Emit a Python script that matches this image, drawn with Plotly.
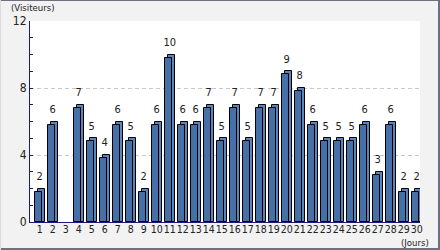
import plotly.graph_objects as go

days = list(range(1, 31))
visitors = [2, 6, 0, 7, 5, 4, 6, 5, 2, 6, 10, 6, 6, 7, 5, 7, 5, 7, 7, 9, 8, 6, 5, 5, 5, 6, 3, 6, 2, 2]
y_ticks = [0, 4, 8, 12]
y_label = "(Visiteurs)"
x_label = "(Jours)"

FONT = "DejaVu Sans Condensed"
FRONT = "#4570a8"
BACK = "#5a86bd"
AXIS = "#1c1c78"
TXT = "#222222"

# geometry of the pseudo-3D bars (in axis units)
depth_y = 0.18   # ~3px
front_w = 0.54
front_off = -0.385
back_off = front_off + 0.23

outline = [0 if v == 0 else 1 for v in visitors]

fig = go.Figure()

# back (depth) face
fig.add_trace(go.Bar(
    x=days, y=visitors, width=front_w, offset=back_off,
    marker=dict(color=BACK, line=dict(color="black", width=outline)),
    hoverinfo="skip", showlegend=False,
))
# front face
fig.add_trace(go.Bar(
    x=days, y=[max(v - depth_y, 0) for v in visitors], width=front_w, offset=front_off,
    marker=dict(color=FRONT, line=dict(color="black", width=outline)),
    showlegend=False,
))
# value labels
fig.add_trace(go.Scatter(
    x=days, y=visitors, mode="markers+text",
    marker=dict(size=8, color="rgba(0,0,0,0)"),
    text=[str(v) if v else "" for v in visitors],
    textposition="top center",
    textfont=dict(family=FONT, size=11, color=TXT),
    hoverinfo="skip", showlegend=False,
))

fig.update_layout(
    width=440, height=250,
    margin=dict(l=30, r=20, t=21, b=28),
    paper_bgcolor="#f2f2f2", plot_bgcolor="white",
    barmode="overlay", bargap=0,
    font=dict(family=FONT, size=11, color=TXT),
    xaxis=dict(
        range=[0.25, 30.25], tickmode="array", tickvals=days,
        ticktext=[str(d) for d in days], tickangle=0,
        showgrid=False, zeroline=False, showline=True, linecolor=AXIS, linewidth=1,
        ticks="", ticklabelstandoff=-3,
        tickfont=dict(family=FONT, size=10.5, color=TXT),
        fixedrange=True,
    ),
    yaxis=dict(
        range=[0, 12], tickmode="array", tickvals=y_ticks,
        showgrid=True, gridcolor="#c8c8c8", griddash="4px,3px", gridwidth=1,
        zeroline=False, showline=True, linecolor=AXIS, linewidth=1,
        ticks="inside", ticklen=3, tickcolor=AXIS,
        minor=dict(dtick=1, tick0=0, ticks="inside", ticklen=3, tickcolor=AXIS, showgrid=False),
        tickfont=dict(family=FONT, size=12, color=TXT),
        fixedrange=True,
    ),
    annotations=[
        dict(text=y_label, xref="paper", yref="paper", x=(9 - 30) / 390, y=(222 - 7.5) / 201,
             xanchor="left", yanchor="middle", showarrow=False,
             font=dict(family=FONT, size=9.5, color=TXT)),
        dict(text=x_label, xref="paper", yref="paper", x=(431 - 30) / 390, y=(222 - 242.5) / 201,
             xanchor="right", yanchor="middle", showarrow=False,
             font=dict(family=FONT, size=9.5, color=TXT)),
    ],
)

# outer frame: top thin dark, right and bottom thicker dark, left light
frame = "#6f6f80"
fig.add_shape(type="rect", xref="paper", yref="paper",
              x0=-30 / 390, x1=410 / 390, y0=(222 - 1) / 201, y1=222 / 201,
              fillcolor=frame, line=dict(width=0), layer="above")
fig.add_shape(type="rect", xref="paper", yref="paper",
              x0=(438 - 30) / 390, x1=(440 - 30) / 390, y0=(222 - 250) / 201, y1=222 / 201,
              fillcolor=frame, line=dict(width=0), layer="above")
fig.add_shape(type="rect", xref="paper", yref="paper",
              x0=-30 / 390, x1=(440 - 30) / 390, y0=(222 - 250) / 201, y1=(222 - 248) / 201,
              fillcolor=frame, line=dict(width=0), layer="above")
fig.add_shape(type="rect", xref="paper", yref="paper",
              x0=-30 / 390, x1=(1 - 30) / 390, y0=(222 - 250) / 201, y1=222 / 201,
              fillcolor="#dcdce0", line=dict(width=0), layer="above")

fig.write_html("out.html")
